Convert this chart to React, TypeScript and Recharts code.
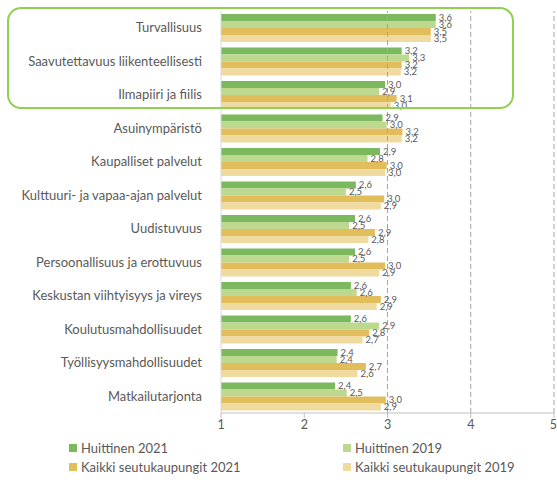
import React from 'react';
import { BarChart, Bar, XAxis, YAxis, ReferenceLine, LabelList } from 'recharts';

const categories = [
  'Turvallisuus',
  'Saavutettavuus liikenteellisesti',
  'Ilmapiiri ja fiilis',
  'Asuinympäristö',
  'Kaupalliset palvelut',
  'Kulttuuri- ja vapaa-ajan palvelut',
  'Uudistuvuus',
  'Persoonallisuus ja erottuvuus',
  'Keskustan viihtyisyys ja vireys',
  'Koulutusmahdollisuudet',
  'Työllisyysmahdollisuudet',
  'Matkailutarjonta',
];

const huittinen2021 = [3.58, 3.17, 2.97, 2.94, 2.91, 2.62, 2.61, 2.61, 2.56, 2.56, 2.4, 2.37];
const huittinen2019 = [3.58, 3.26, 2.9, 2.99, 2.76, 2.5, 2.54, 2.54, 2.63, 2.9, 2.39, 2.51];
const kaikki2021 = [3.52, 3.17, 3.11, 3.18, 2.99, 2.96, 2.85, 2.97, 2.92, 2.78, 2.74, 2.98];
const kaikki2019 = [3.52, 3.16, 3.04, 3.17, 2.97, 2.92, 2.77, 2.9, 2.87, 2.7, 2.64, 2.92];

const xTicks = [1, 2, 3, 4, 5];

const series = [
  { key: 'h2021', name: 'Huittinen 2021', color: '#7cb95e', values: huittinen2021 },
  { key: 'h2019', name: 'Huittinen 2019', color: '#bcd98f', values: huittinen2019 },
  { key: 'k2021', name: 'Kaikki seutukaupungit 2021', color: '#e2bd5c', values: kaikki2021 },
  { key: 'k2019', name: 'Kaikki seutukaupungit 2019', color: '#efda9f', values: kaikki2019 },
];

const data = categories.map((name, i) => {
  const row: Record<string, string | number> = { name };
  series.forEach(s => { row[s.key] = s.values[i]; });
  return row;
});

const FONT = 'Lato, "Open Sans", sans-serif';
const fmt = (v: any) => Number(v).toFixed(1).replace('.', ',');

export default function App() {
  return (
    <div style={{ position: 'absolute', left: 0, top: 0, width: 557, height: 484, background: '#fff', fontFamily: FONT }}>
      <BarChart
        width={557}
        height={440}
        data={data}
        layout="vertical"
        margin={{ top: 11, right: 3, left: 0, bottom: 0 }}
        barCategoryGap="9%"
        barGap={0}
      >
        <XAxis
          type="number"
          domain={[1, 5]}
          ticks={xTicks}
          height={27}
          stroke="#bfbfbf"
          tickSize={5}
          tick={{ fill: '#595959', fontSize: 12.5, fontFamily: FONT }}
        />
        <YAxis
          type="category"
          dataKey="name"
          width={221}
          stroke="#d9d9d9"
          tickLine={false}
          tickMargin={13}
          tick={{ fill: '#595959', fontSize: 13, fontFamily: FONT }}
        />
        {[3, 4, 5].map(x => (
          <ReferenceLine key={x} x={x} stroke="#a6a6a6" strokeDasharray="5 3" />
        ))}
        {series.map(s => (
          <Bar key={s.key} dataKey={s.key} name={s.name} fill={s.color} isAnimationActive={false}>
            <LabelList
              dataKey={s.key}
              position="right"
              offset={3}
              formatter={fmt}
              style={{ fill: '#595959', fontSize: 9.5, fontFamily: FONT }}
            />
          </Bar>
        ))}
      </BarChart>
      <div
        style={{
          position: 'absolute', left: 7, top: 7, width: 503, height: 98,
          border: '2px solid #92d050', borderRadius: 14, pointerEvents: 'none',
        }}
      />
      {series.map((s, i) => (
        <div
          key={s.key}
          style={{
            position: 'absolute',
            left: i % 2 === 0 ? 69 : 343,
            top: i < 2 ? 440 : 459,
            display: 'flex', alignItems: 'center',
            fontSize: 13, color: '#595959', whiteSpace: 'nowrap',
          }}
        >
          <span style={{ width: 8, height: 8, background: s.color, marginRight: 4, display: 'inline-block' }} />
          {s.name}
        </div>
      ))}
    </div>
  );
}
